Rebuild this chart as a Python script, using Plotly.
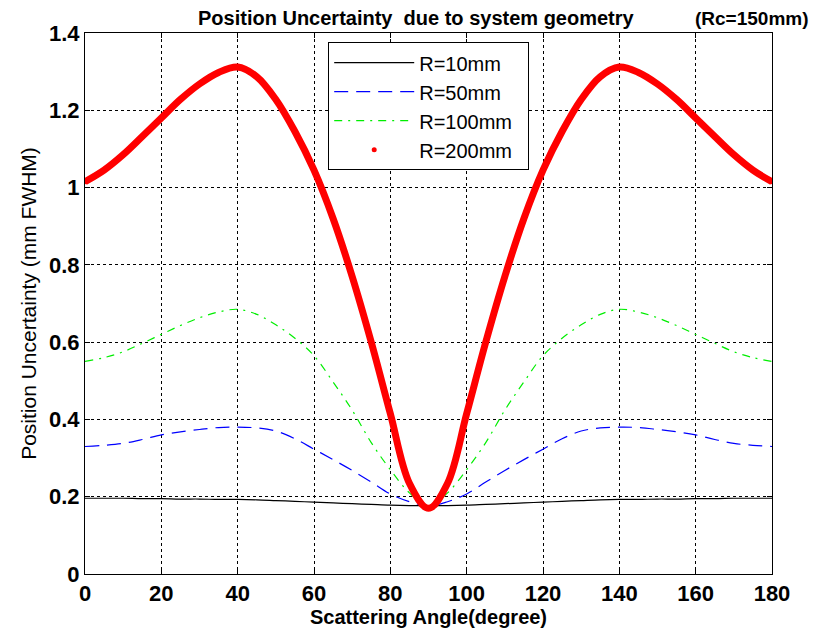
import plotly.graph_objects as go

angles = [0, 5, 10, 15, 20, 25, 30, 35, 40, 45, 50, 55, 60, 65, 70, 75, 80, 85, 90,
          95, 100, 105, 110, 115, 120, 125, 130, 135, 140, 145, 150, 155, 160, 165, 170, 175, 180]

r10 = [0.196, 0.196, 0.196, 0.195, 0.195, 0.194, 0.194, 0.193, 0.193, 0.192, 0.190, 0.188, 0.186, 0.184, 0.182, 0.180, 0.178, 0.177, 0.177,
       0.177, 0.178, 0.180, 0.182, 0.184, 0.186, 0.188, 0.190, 0.192, 0.193, 0.193, 0.194, 0.194, 0.195, 0.195, 0.196, 0.196, 0.196]

r50 = [0.330, 0.333, 0.338, 0.348, 0.360, 0.368, 0.374, 0.379, 0.380, 0.378, 0.370, 0.350, 0.323, 0.296, 0.268, 0.238, 0.207, 0.187, 0.176,
       0.187, 0.207, 0.238, 0.268, 0.296, 0.323, 0.350, 0.370, 0.378, 0.380, 0.379, 0.374, 0.368, 0.360, 0.348, 0.338, 0.333, 0.330]

r100 = [0.550, 0.560, 0.575, 0.597, 0.620, 0.643, 0.663, 0.678, 0.685, 0.672, 0.645, 0.610, 0.565, 0.497, 0.424, 0.340, 0.270, 0.210, 0.175,
        0.210, 0.270, 0.340, 0.424, 0.497, 0.565, 0.610, 0.645, 0.672, 0.685, 0.678, 0.663, 0.643, 0.620, 0.597, 0.575, 0.560, 0.550]

r200 = [1.015, 1.045, 1.085, 1.132, 1.180, 1.228, 1.268, 1.298, 1.312, 1.287, 1.228, 1.145, 1.045, 0.920, 0.770, 0.600, 0.415, 0.235, 0.170,
        0.235, 0.415, 0.600, 0.770, 0.920, 1.045, 1.145, 1.228, 1.287, 1.312, 1.298, 1.268, 1.228, 1.180, 1.132, 1.085, 1.045, 1.015]

x_ticks = [0, 20, 40, 60, 80, 100, 120, 140, 160, 180]
y_ticks = [0, 0.2, 0.4, 0.6, 0.8, 1.0, 1.2, 1.4]
y_tick_text = ["0", "0.2", "0.4", "0.6", "0.8", "1", "1.2", "1.4"]

FONT = "Liberation Sans, Arial, sans-serif"
NB = "\u00a0"

fig = go.Figure()
fig.add_trace(go.Scatter(x=angles, y=r10, mode="lines", name="R=10mm" + NB * 4, legendgroup="a",
                         line=dict(color="black", width=1.2, shape="spline")))
fig.add_trace(go.Scatter(x=angles, y=r50, mode="lines", name="R=50mm", legendgroup="b",
                         line=dict(color="blue", width=1.2, dash="14px,8px", shape="spline")))
fig.add_trace(go.Scatter(x=angles, y=r100, mode="lines", name="R=100mm", legendgroup="c",
                         line=dict(color="#00ee00", width=1.2, dash="8px,6px,2px,6px", shape="spline")))
fig.add_trace(go.Scatter(x=angles, y=r200, mode="lines", name="R=200mm", showlegend=False,
                         line=dict(color="red", width=7, shape="spline", smoothing=1)))
fig.add_trace(go.Scatter(x=angles, y=r200, mode="markers", name="R=200mm", legendgroup="d",
                         marker=dict(color="red", size=5)))

axis_common = dict(
    showline=True, linecolor="black", linewidth=1, mirror="allticks",
    ticks="inside", ticklen=5, tickcolor="black",
    showgrid=True, gridcolor="black", griddash="3px,3px", gridwidth=1,
    zeroline=False,
    tickfont=dict(family=FONT, size=22, color="black", weight="bold"),
)

fig.update_xaxes(range=[0, 180], tickvals=x_ticks,
                 title=dict(text="<b>Scattering Angle(degree)</b>", standoff=4,
                            font=dict(family=FONT, size=20, color="black")),
                 **axis_common)
fig.update_yaxes(range=[0, 1.4], tickvals=y_ticks, ticktext=y_tick_text,
                 title=dict(text="Position Uncertainty (mm FWHM)", standoff=6,
                            font=dict(family=FONT, size=21, color="black")),
                 **axis_common)

fig.update_layout(
    width=810, height=630,
    margin=dict(l=76.5, r=45.5, t=25, b=64),
    paper_bgcolor="white", plot_bgcolor="white",
    showlegend=True,
    legend=dict(x=0.354, y=0.983, xanchor="left", yanchor="top",
                bgcolor="white", bordercolor="black", borderwidth=1,
                font=dict(family=FONT, size=20, color="black"),
                tracegroupgap=0, itemwidth=80),
    annotations=[
        dict(text="<b>Position Uncertainty  due to system geometry</b>", x=0.483, y=1.0, xref="paper", yref="paper",
             xanchor="center", yanchor="bottom", yshift=2, showarrow=False,
             font=dict(family=FONT, size=20, color="black")),
        dict(text="<b>(Rc=150mm)</b>", x=1.0, y=1.0, xref="paper", yref="paper",
             xanchor="right", yanchor="bottom", yshift=2, showarrow=False,
             font=dict(family=FONT, size=19, color="black")),
    ],
)
# place the right-hand title note near the figure's right edge (paper fraction)
fig.layout.annotations[1].x = (804 - 76.5) / (810 - 76.5 - 45.5)

fig.write_html("out.html")
